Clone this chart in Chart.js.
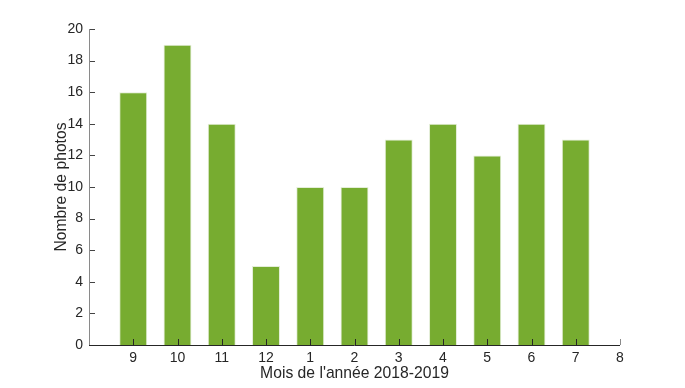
<!DOCTYPE html>
<html>
<head>
<meta charset="utf-8">
<script src="https://cdn.jsdelivr.net/npm/chart.js@4.4.0/dist/chart.umd.min.js"></script>
<style>
  html, body { margin: 0; padding: 0; background: #fff; }
  #wrap { width: 685px; height: 388px; }
</style>
</head>
<body>
<div id="wrap"><canvas id="c" width="685" height="388"></canvas></div>
<script>
// Months of school year (x positions 1..11); tick 12 = "8" has no bar
const months = ['9', '10', '11', '12', '1', '2', '3', '4', '5', '6', '7'];
const tickLabels = ['', '9', '10', '11', '12', '1', '2', '3', '4', '5', '6', '7', '8'];
const photos = [16, 19, 14, 5, 10, 10, 13, 14, 12, 14, 13];
const yTicks = [0, 2, 4, 6, 8, 10, 12, 14, 16, 18, 20];

const points = months.map((m, i) => ({ x: i + 1, y: photos[i] }));

const FONT = 'Liberation Sans, Arial, Helvetica, sans-serif';

const insideTicks = {
  id: 'insideTicks',
  afterDraw(chart) {
    const ctx = chart.ctx;
    const xs = chart.scales.x, ys = chart.scales.y;
    const area = chart.chartArea;
    ctx.save();
    ctx.lineWidth = 1;
    xs.ticks.forEach((t) => {
      if (t.value === 0) return;
      const px = Math.round(xs.getPixelForValue(t.value)) + 0.5;
      ctx.strokeStyle = t.value === 12 ? '#8a8a8a' : '#262626';
      ctx.beginPath();
      ctx.moveTo(px, area.bottom);
      ctx.lineTo(px, area.bottom - 6);
      ctx.stroke();
    });
    ctx.strokeStyle = '#444';
    ys.ticks.forEach((t) => {
      const py = Math.round(ys.getPixelForValue(t.value)) + 0.5;
      ctx.beginPath();
      ctx.moveTo(area.left, py);
      ctx.lineTo(area.left + 6, py);
      ctx.stroke();
    });
    ctx.strokeStyle = '#8a8a8a';
    ctx.beginPath();
    ctx.moveTo(Math.round(area.left) + 0.5, area.top);
    ctx.lineTo(Math.round(area.left) + 0.5, area.bottom);
    ctx.stroke();
    ctx.strokeStyle = '#262626';
    ctx.beginPath();
    ctx.moveTo(area.left, Math.round(area.bottom) + 0.5);
    ctx.lineTo(area.right, Math.round(area.bottom) + 0.5);
    ctx.stroke();
    ctx.restore();
  }
};

new Chart(document.getElementById('c'), {
  type: 'bar',
  data: {
    datasets: [{
      data: points,
      backgroundColor: '#77AC30',
      borderColor: '#e4eed8',
      borderWidth: 1,
      barPercentage: 0.79,
      categoryPercentage: 0.8
    }]
  },
  options: {
    responsive: false,
    animation: false,
    layout: { padding: { left: 0, right: 65, top: 29, bottom: 0 } },
    plugins: { legend: { display: false }, tooltip: { enabled: false } },
    scales: {
      x: {
        type: 'linear',
        min: 0,
        max: 12,
        offset: false,
        grid: { display: false, drawTicks: false },
        border: { display: false },
        afterFit(s) { s.height = 43; },
        afterBuildTicks(s) { s.ticks = tickLabels.map((l, i) => ({ value: i })); },
        ticks: {
          autoSkip: false,
          maxRotation: 0,
          padding: 5,
          color: '#262626',
          font: { family: FONT, size: 14 },
          callback: (v) => tickLabels[v]
        },
        title: {
          display: true,
          text: "Mois de l'année 2018-2019",
          color: '#262626',
          font: { family: FONT, size: 15.7 },
          padding: { top: 0, bottom: 5 }
        }
      },
      y: {
        min: 0,
        max: 20,
        afterBuildTicks(s) { s.ticks = yTicks.map(v => ({ value: v })); },
        afterFit(s) { s.width = 89; },
        grid: { display: false, drawTicks: false },
        border: { display: false },
        ticks: {
          padding: 6,
          color: '#262626',
          font: { family: FONT, size: 14 }
        },
        title: {
          display: true,
          text: 'Nombre de photos',
          color: '#262626',
          font: { family: FONT, size: 15.7 },
          padding: { top: 52, bottom: 0 }
        }
      }
    }
  },
  plugins: [insideTicks]
});
</script>
</body>
</html>
